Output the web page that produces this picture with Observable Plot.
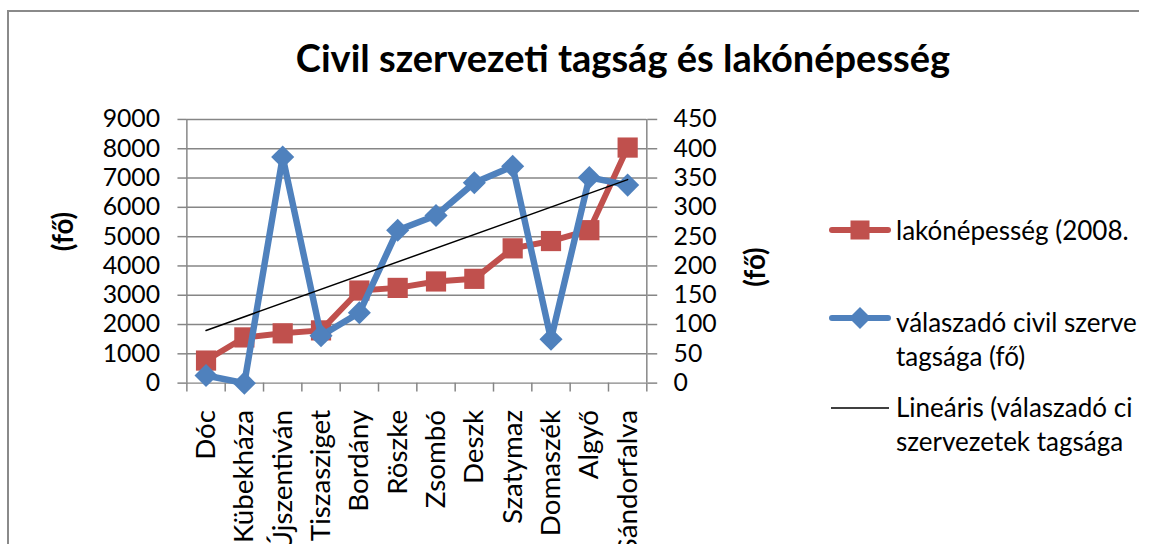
<!DOCTYPE html>
<html>
<head>
<meta charset="utf-8">
<script src="https://cdn.jsdelivr.net/npm/d3@7"></script>
<script src="https://cdn.jsdelivr.net/npm/@observablehq/plot@0.6"></script>
<style>
  html, body { margin: 0; padding: 0; background: #fff; overflow: hidden; }
  #wrap { position: relative; width: 1139px; height: 544px; overflow: hidden; font-family: Lato, "Open Sans", sans-serif; }
  #frame { position: absolute; left: 7px; top: 10px; width: 2000px; height: 2000px; border: 2px solid #8a8a8a; box-sizing: border-box; }
  #chart { position: absolute; left: 0; top: 0; }
  #title { position: absolute; left: 0; top: 38px; width: 1246px; text-align: center; font-weight: bold; font-size: 38px; line-height: 38px; white-space: nowrap; color: #000; }
  .lg-swatch { position: absolute; left: 829px; width: 62px; height: 24px; }
  .lg-text { position: absolute; left: 896px; font-size: 26px; line-height: 34px; white-space: nowrap; color: #000; }
</style>
</head>
<body>
<div id="wrap">
  <div id="frame"></div>
  <div id="chart"></div>
  <div id="title"></div>
</div>
<script>
const title = "Civil szervezeti tagság és lakónépesség";
const axisTitle = "(fő)";
const categories = ["Dóc","Kübekháza","Újszentiván","Tiszasziget","Bordány","Röszke","Zsombó","Deszk","Szatymaz","Domaszék","Algyő","Sándorfalva"];
const lakonepesseg = [770, 1560, 1700, 1800, 3160, 3250, 3470, 3560, 4600, 4850, 5220, 8040];
const tagsag = [13, 0, 386, 81, 120, 261, 286, 342, 370, 75, 351, 338];
const leftTicks = [0, 1000, 2000, 3000, 4000, 5000, 6000, 7000, 8000, 9000];
const rightTicks = [0, 50, 100, 150, 200, 250, 300, 350, 400, 450];
const legendLabels = [
  ["lakónépesség (2008."],
  ["válaszadó civil szerve", "tagsága (fő)"],
  ["Lineáris (válaszadó ci", "szervezetek tagsága"]
];
const RED = "#C0504D", BLUE = "#4F81BD", GRID = "#868686";

const ratio = leftTicks[leftTicks.length - 1] / rightTicks[rightTicks.length - 1];
const redData = categories.map((c, i) => ({i: i + 1, v: lakonepesseg[i]}));
const blueData = categories.map((c, i) => ({i: i + 1, v: tagsag[i] * ratio}));
const centers = categories.map((c, i) => i + 1);
const bounds = d3.range(categories.length + 1).map(k => k + 0.5);

document.getElementById("title").textContent = title;

const chart = Plot.plot({
  width: 1149,
  height: 544,
  marginLeft: 188,
  marginRight: 497,
  marginTop: 120,
  marginBottom: 158,
  style: {fontFamily: "Lato, 'Open Sans', sans-serif", fontSize: "25px", color: "#000", background: "transparent", overflow: "visible"},
  x: {type: "linear", domain: [0.5, categories.length + 0.5]},
  y: {domain: [leftTicks[0], leftTicks[leftTicks.length - 1]]},
  marks: [
    Plot.ruleY(leftTicks, {stroke: GRID, strokeWidth: 1.5}),
    Plot.ruleX([bounds[0], bounds[bounds.length - 1]], {stroke: GRID, strokeWidth: 1.5}),
    Plot.axisY({ticks: leftTicks, tickSize: 9, tickPadding: 18, tickFormat: d => String(d), stroke: GRID, strokeWidth: 1.5, fontSize: 25, label: null}),
    Plot.axisY({anchor: "right", ticks: leftTicks, tickFormat: d => String(d / ratio), tickSize: 10, tickPadding: 17, stroke: GRID, strokeWidth: 1.5, fontSize: 25, label: null}),
    Plot.axisX({ticks: bounds, tickSize: 9, tickFormat: () => "", stroke: GRID, strokeWidth: 1.5, label: null}),
    Plot.axisX({ticks: centers, tickSize: 0, tickPadding: 27, tickRotate: -90, tickFormat: i => categories[i - 1], fontSize: 28, label: null}),
    Plot.line(redData, {x: "i", y: "v", stroke: RED, strokeWidth: 6, strokeLinejoin: "round"}),
    Plot.dot(redData, {x: "i", y: "v", symbol: "square", r: 11.5, fill: RED, stroke: "none"}),
    Plot.line(blueData, {x: "i", y: "v", stroke: BLUE, strokeWidth: 6.5, strokeLinejoin: "round"}),
    Plot.dot(blueData, {x: "i", y: "v", symbol: "diamond2", r: 10.5, fill: BLUE, stroke: "none"}),
    Plot.linearRegressionY(blueData, {x: "i", y: "v", ci: 0, stroke: "#000", strokeWidth: 1.5}),
    Plot.text([axisTitle], {frameAnchor: "left", dx: -124, rotate: -90, fontWeight: "bold", fontSize: 28}),
    Plot.text([axisTitle], {frameAnchor: "right", dx: 110, dy: -4, rotate: -90, fontWeight: "bold", fontSize: 28})
  ]
});
document.getElementById("chart").appendChild(chart);

// legend
const wrap = document.getElementById("wrap");
const legendTops = [213, 305, 390];
const swatchCenters = [230, 318, 408];
const kinds = ["square", "diamond", "line"];
const colors = [RED, BLUE, "#000"];
legendLabels.forEach((lines, k) => {
  const sw = document.createElementNS("http://www.w3.org/2000/svg", "svg");
  sw.setAttribute("class", "lg-swatch");
  sw.setAttribute("width", 62);
  sw.setAttribute("height", 24);
  sw.style.top = (swatchCenters[k] - 12) + "px";
  let inner;
  if (kinds[k] === "line") {
    inner = `<line x1="2" x2="60" y1="12" y2="12" stroke="#000" stroke-width="1.5"/>`;
  } else {
    inner = `<line x1="3" x2="59" y1="12" y2="12" stroke="${colors[k]}" stroke-width="6" stroke-linecap="round"/>`;
    if (kinds[k] === "square") inner += `<rect x="21.5" y="2.5" width="19" height="19" fill="${colors[k]}"/>`;
    else inner += `<path d="M31 1 L42 12 L31 23 L20 12 Z" fill="${colors[k]}"/>`;
  }
  sw.innerHTML = inner;
  wrap.appendChild(sw);
  const t = document.createElement("div");
  t.className = "lg-text";
  t.style.top = legendTops[k] + "px";
  t.innerHTML = lines.join("<br>");
  wrap.appendChild(t);
});
</script>
</body>
</html>
